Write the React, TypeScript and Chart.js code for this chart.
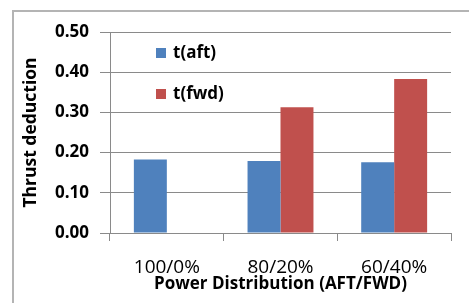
import React, { useEffect, useRef } from "react";
import { Chart, registerables } from "chart.js";

Chart.register(...registerables);

const categories = ["100/0%", "80/20%", "60/40%"];
const tAft = [0.183, 0.179, 0.176];
const tFwd = [null, 0.313, 0.383];
const seriesNames = ["t(aft)", "t(fwd)"];
const yTicks = [0, 0.1, 0.2, 0.3, 0.4, 0.5];

const BLUE = "#4F81BD";
const RED = "#C0504D";
const FONT = "'Open Sans', 'Noto Sans', sans-serif";

const framePlugin = {
  id: "frame",
  beforeDraw(chart: any) {
    const ctx = chart.ctx;
    ctx.save();
    ctx.fillStyle = "#ffffff";
    ctx.fillRect(0, 0, chart.width, chart.height);
    ctx.strokeStyle = "#b4b4b4";
    ctx.lineWidth = 2;
    ctx.beginPath();
    ctx.moveTo(13, chart.height + 5);
    ctx.lineTo(13, 11);
    ctx.lineTo(chart.width + 5, 11);
    ctx.stroke();
    ctx.restore();
  },
};

const legendPlugin = {
  id: "innerLegend",
  afterDraw(chart: any) {
    const ctx = chart.ctx;
    const area = chart.chartArea;
    const colors = [BLUE, RED];
    ctx.save();
    ctx.font = `bold 17px ${FONT}`;
    ctx.textBaseline = "middle";
    ctx.textAlign = "left";
    seriesNames.forEach((name, i) => {
      const cy = area.top + 21 + i * 41;
      const x = area.left + 46;
      ctx.fillStyle = colors[i];
      ctx.fillRect(x, cy - 5, 10, 10);
      ctx.fillStyle = "#000";
      ctx.fillText(name, x + 17, cy);
    });
    ctx.restore();
  },
};

export default function App() {
  const ref = useRef<HTMLCanvasElement>(null);
  useEffect(() => {
    if (!ref.current) return;
    const chart = new Chart(ref.current, {
      type: "bar",
      data: {
        labels: categories,
        datasets: [
          { label: seriesNames[0], data: tAft, backgroundColor: BLUE },
          { label: seriesNames[1], data: tFwd as any, backgroundColor: RED },
        ],
      },
      options: {
        animation: false,
        responsive: false,
        devicePixelRatio: 1,
        layout: { padding: { left: 0, right: 18, top: 32, bottom: 0 } },
        datasets: { bar: { categoryPercentage: 0.58, barPercentage: 1 } },
        plugins: { legend: { display: false }, tooltip: { enabled: false } },
        scales: {
          x: {
            grid: {
              drawOnChartArea: false,
              drawTicks: true,
              tickLength: 8,
              color: "#8a8a8a",
              offset: true,
            },
            border: { color: "#8a8a8a", width: 1 },
            ticks: {
              color: "#000",
              font: { family: FONT, size: 19 },
              padding: 15,
            },
            title: {
              display: true,
              text: "Power Distribution (AFT/FWD)",
              color: "#000",
              font: { family: FONT, size: 17, weight: "bold" },
              padding: { top: 0, bottom: 9 },
            },
            afterFit: (s: any) => {
              s.height = 70;
            },
          },
          y: {
            min: 0,
            max: 0.5,
            afterBuildTicks: (s: any) => {
              s.ticks = yTicks.map((v) => ({ value: v }));
            },
            grid: { color: "#8a8a8a", tickLength: 10 },
            border: { color: "#8a8a8a", width: 1 },
            ticks: {
              color: "#000",
              font: { family: FONT, size: 17, weight: "bold" },
              padding: 11,
              callback: (v: any) => Number(v).toFixed(2),
            },
            title: {
              display: true,
              text: "Thrust deduction",
              color: "#000",
              font: { family: FONT, size: 17.5, weight: "bold" },
              padding: { top: 21, bottom: 0 },
            },
            afterFit: (s: any) => {
              s.width = 110;
            },
          },
        },
      },
      plugins: [framePlugin, legendPlugin],
    });
    return () => chart.destroy();
  }, []);
  return (
    <div style={{ position: "fixed", left: 0, top: 0, width: 469, height: 303 }}>
      <canvas ref={ref} width={469} height={303} style={{ width: 469, height: 303, display: "block" }} />
    </div>
  );
}
